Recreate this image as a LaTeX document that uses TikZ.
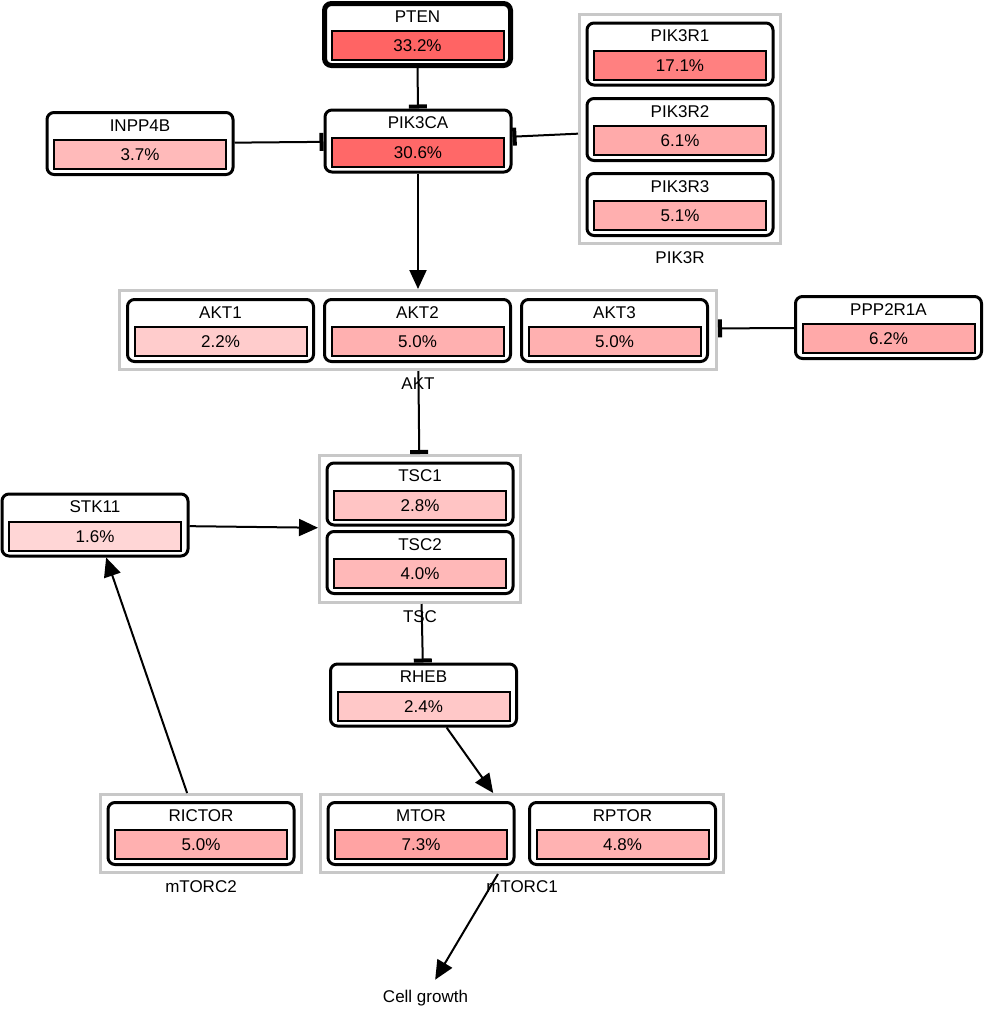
\documentclass[tikz,border=0pt]{standalone}
\usepackage{fontspec}
\setmainfont{Liberation Sans}
\usetikzlibrary{arrows.meta,calc}
\definecolor{grpgray}{RGB}{200,200,200}
\definecolor{cPTEN}{RGB}{255,100,100}
\definecolor{cPIK3CA}{RGB}{255,104,104}
\definecolor{cPIK3R1}{RGB}{255,128,128}
\definecolor{cPIK3R2}{RGB}{255,170,170}
\definecolor{cPIK3R3}{RGB}{255,175,175}
\definecolor{cINPP4B}{RGB}{255,186,186}
\definecolor{cAKT1}{RGB}{255,204,204}
\definecolor{cAKT2}{RGB}{255,176,176}
\definecolor{cAKT3}{RGB}{255,176,176}
\definecolor{cPPP2R1A}{RGB}{255,169,169}
\definecolor{cTSC1}{RGB}{255,196,196}
\definecolor{cTSC2}{RGB}{255,184,184}
\definecolor{cSTK11}{RGB}{255,214,214}
\definecolor{cRHEB}{RGB}{255,200,200}
\definecolor{cRICTOR}{RGB}{255,176,176}
\definecolor{cMTOR}{RGB}{255,163,163}
\definecolor{cRPTOR}{RGB}{255,178,178}
\newcommand{\genefont}{\fontsize{17}{20}\selectfont}
\tikzset{
  gbox/.style={draw=black, line width=3pt, rounded corners=7pt, fill=white,
    minimum width=186pt, minimum height=62pt, inner sep=0pt},
  gbar/.style={draw=black, line width=2pt, minimum width=172pt, minimum height=29pt,
    inner sep=0pt, font=\genefont, text height=12.2pt, text depth=0pt},
  lbl/.style={inner sep=0pt, font=\genefont, text height=12.2pt, text depth=0pt},
  grpbox/.style={draw=grpgray, line width=3pt, inner sep=0pt},
  inh/.style={line width=2pt, -{Rectangle[length=4pt,width=18pt]}},
  act/.style={line width=2pt, -{Triangle[length=19pt,width=17pt]}},
}
% #1 options, #2 name, #3 cx, #4 cy (image coords), #5 percent, #6 colour
\newcommand{\gene}[6][]{%
  \node[gbox,#1] (#2) at (#3,-#4) {};
  \node[gbar, fill=#6] (#2-bar) at ($(#2.center)+(0,-11)$) {#5};
  \node[lbl] (#2-lbl) at ($(#2.center)+(0,18.5)$) {#2};
}
\begin{document}
\begin{tikzpicture}[x=1pt,y=1pt]
\useasboundingbox (0,0) rectangle (984,-1013);
% groups
\node[grpbox, minimum width=201pt, minimum height=229pt] (PIK3R) at (680,-129) {};
\node[lbl] (PIK3R-lbl) at ($(PIK3R.south)+(0,-12.5)$) {PIK3R};
\node[grpbox, minimum width=597pt, minimum height=79pt] (AKT) at (418,-330) {};
\node[lbl] (AKT-lbl) at ($(AKT.south)+(0,-12.5)$) {AKT};
\node[grpbox, minimum width=201pt, minimum height=147pt] (TSC) at (420,-529) {};
\node[lbl] (TSC-lbl) at ($(TSC.south)+(0,-12.5)$) {TSC};
\node[grpbox, minimum width=201pt, minimum height=78pt] (mTORC2) at (201,-833.5) {};
\node[lbl] (mTORC2-lbl) at ($(mTORC2.south)+(0,-12.5)$) {mTORC2};
\node[grpbox, minimum width=403pt, minimum height=78pt] (mTORC1) at (522,-833.5) {};
\node[lbl] (mTORC1-lbl) at ($(mTORC1.south)+(0,-12.5)$) {mTORC1};
% genes
\gene[line width=5pt]{PTEN}{417.5}{34.5}{33.2\%}{cPTEN}
\gene{PIK3CA}{418}{141}{30.6\%}{cPIK3CA}
\gene{INPP4B}{140}{143.5}{3.7\%}{cINPP4B}
\gene{PIK3R1}{680}{54}{17.1\%}{cPIK3R1}
\gene{PIK3R2}{680}{129.5}{6.1\%}{cPIK3R2}
\gene{PIK3R3}{680}{204.5}{5.1\%}{cPIK3R3}
\gene{AKT1}{220.5}{330.5}{2.2\%}{cAKT1}
\gene{AKT2}{417.5}{330.5}{5.0\%}{cAKT2}
\gene{AKT3}{614.5}{330.5}{5.0\%}{cAKT3}
\gene{PPP2R1A}{888.5}{327.5}{6.2\%}{cPPP2R1A}
\gene{TSC1}{420}{494}{2.8\%}{cTSC1}
\gene{TSC2}{420}{562.5}{4.0\%}{cTSC2}
\gene{STK11}{95}{525}{1.6\%}{cSTK11}
\gene{RHEB}{423.5}{695}{2.4\%}{cRHEB}
\gene{RICTOR}{201}{833.5}{5.0\%}{cRICTOR}
\gene{MTOR}{421}{833.5}{7.3\%}{cMTOR}
\gene{RPTOR}{622.5}{833.5}{4.8\%}{cRPTOR}
% free label
\node[lbl, inner sep=10pt] (growth) at (425.5,-996) {Cell growth};
% connectors
\draw[inh] (PTEN) -- (PIK3CA);
\draw[inh] (INPP4B) -- (PIK3CA);
\draw[inh] (PIK3R) -- (PIK3CA);
\draw[act] (PIK3CA) -- (AKT);
\draw[inh] (PPP2R1A) -- (AKT);
\draw[inh] (AKT) -- (TSC);
\draw[act] (STK11) -- (TSC);
\draw[inh] (TSC) -- (RHEB);
\draw[act] (RHEB) -- (mTORC1);
\draw[act] (mTORC2) -- (STK11);
\draw[act] (mTORC1) -- (growth);
\end{tikzpicture}
\end{document}
